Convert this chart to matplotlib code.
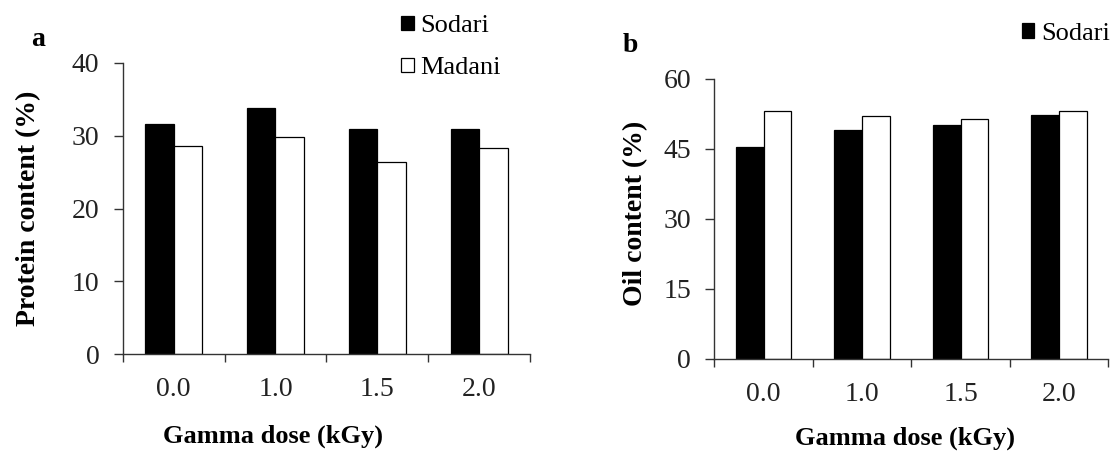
import matplotlib
matplotlib.use("Agg")
import matplotlib.pyplot as plt
import numpy as np

plt.rcParams['font.family'] = ['Liberation Serif', 'DejaVu Serif']

doses = ["0.0", "1.0", "1.5", "2.0"]
protein_sodari = [31.55, 33.8, 30.85, 30.85]
protein_madani = [28.55, 29.8, 26.4, 28.35]
oil_sodari = [45.4, 49.1, 50.1, 52.35]
oil_madani = [53.1, 52.0, 51.5, 53.1]

W, H = 1113, 451
fig = plt.figure(figsize=(W / 100, H / 100), dpi=100)
# axes boxes in pixels (left, top-of-axis, right, y of zero line)
ax1 = fig.add_axes([122.7 / W, 1 - 354.3 / H, (530 - 122.7) / W, (354.3 - 62.7) / H])
ax2 = fig.add_axes([714.3 / W, 1 - 359 / H, (1108.3 - 714.3) / W, (359 - 79) / H])

x = np.arange(len(doses)) + 0.5
w = 0.28


def draw(ax, s, m, ylim, yticks, ylabel):
    ax.bar(x - w / 2, s, w, color='black', edgecolor='black', linewidth=0.9, label='Sodari')
    ax.bar(x + w / 2, m, w, color='white', edgecolor='black', linewidth=0.9, label='Madani')
    ax.set_xlim(0, len(doses))
    ax.set_ylim(*ylim)
    ax.set_yticks(yticks)
    ax.set_xticks(np.arange(len(doses) + 1))
    ax.set_xticklabels([])
    ax.set_xticks(x, minor=True)
    ax.set_xticklabels(doses, minor=True)
    ax.tick_params(axis='x', which='major', direction='out', length=5.8, width=1, color='#333333')
    ax.tick_params(axis='x', which='minor', length=0, pad=16.5, labelsize=20, colors='#222222')
    ax.tick_params(axis='y', direction='out', length=6.3, width=1, labelsize=20, pad=10.5,
                   color='#333333', labelcolor='#222222')
    for sp in ['top', 'right']:
        ax.spines[sp].set_visible(False)
    for sp in ['left', 'bottom']:
        ax.spines[sp].set_linewidth(1)
        ax.spines[sp].set_color('#333333')
    ax.set_ylabel(ylabel, fontsize=20, fontweight='bold')
    ax.set_xlabel("Gamma dose (kGy)", fontsize=19, fontweight='bold')


draw(ax1, protein_sodari, protein_madani, (0, 40), [0, 10, 20, 30, 40], "Protein content (%)")
draw(ax2, oil_sodari, oil_madani, (0, 60), [0, 15, 30, 45, 60], "Oil content (%)")
ax1.yaxis.set_label_coords(-0.2, 0.5)
ax2.yaxis.set_label_coords(-0.168, 0.52)
ax1.xaxis.set_label_coords(0.37, -0.24)
ax2.xaxis.set_label_coords(0.485, -0.24)

fig.text(38.3 / W, 1 - 40 / H, "a", fontsize=20, fontweight='bold', ha='center', va='center')
fig.text(630 / W, 1 - 46 / H, "b", fontsize=20, fontweight='bold', ha='center', va='center')

leg_kw = dict(loc='upper left', frameon=False, fontsize=19, handlelength=0.48, handleheight=0.48,
              handletextpad=0.25, labelspacing=0.75, borderpad=0, borderaxespad=0)
h, l = ax1.get_legend_handles_labels()
fig.legend(h, l, bbox_to_anchor=(401 / W, 1 - 15.5 / H), **leg_kw)
h, l = ax2.get_legend_handles_labels()
fig.legend(h[:1], l[:1], bbox_to_anchor=(1021.7 / W, 1 - 23 / H), **leg_kw)

fig.savefig("out.png", dpi=100)
